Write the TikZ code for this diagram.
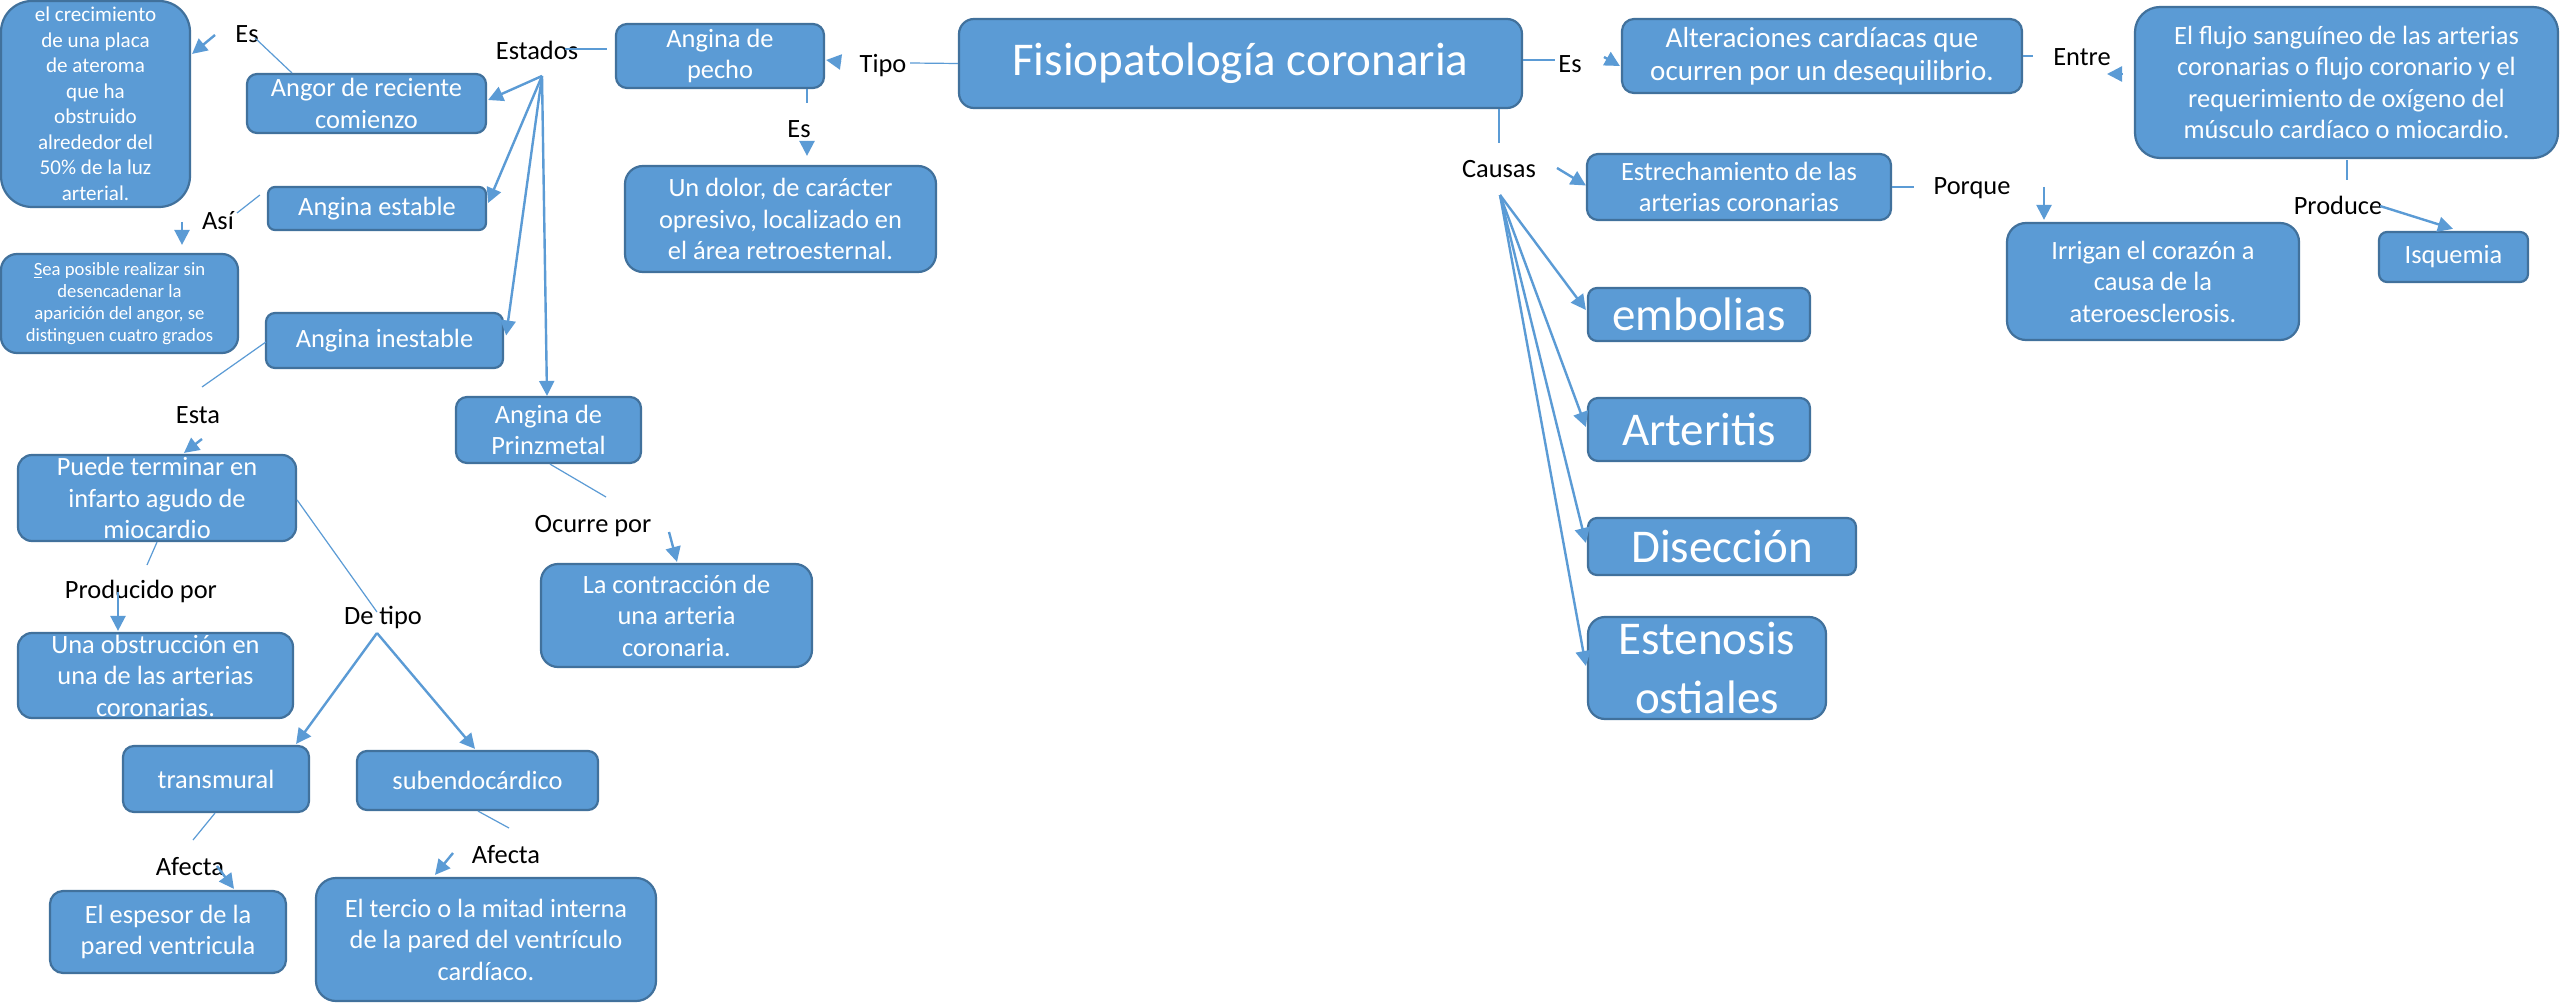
\documentclass[tikz,border=0pt]{standalone}
\usepackage{fontspec}
\setmainfont{Carlito}
\usetikzlibrary{arrows.meta,calc}
\definecolor{boxc}{HTML}{5B9BD5}
\definecolor{bordc}{HTML}{41719C}
\definecolor{linec}{HTML}{5B9BD5}
\newcommand\fsz[2]{\fontsize{#1pt}{#2pt}\selectfont}
\tikzset{
  box/.style={draw=bordc, fill=boxc, line width=2.2pt, text=white, align=center, inner sep=0pt, rounded corners=#1},
  box/.default=10pt,
  lbl/.style={font=\fsz{26.4}{31}, text=black, inner sep=0pt, anchor=base},
  arr/.style={draw=linec, line width=2.4pt, -{Triangle[length=15pt,width=15pt]}},
  thinl/.style={draw=linec, line width=1.2pt},
  bt/.style={font=\fsz{26.4}{31.5}},
  big/.style={font=\fsz{47}{57}},
}
\begin{document}
\begin{tikzpicture}[x=1pt,y=-1pt]
\useasboundingbox (0,0) rectangle (2560,1008);
\fill[white] (0,0) rectangle (2560,1008);

% ---------- boxes ----------
\node[box=31pt, minimum width=189pt, minimum height=206pt, font=\fsz{21.1}{25.5}] (tl) at (95.5,104) {el crecimiento\\de una placa\\de ateroma\\que ha\\obstruido\\alrededor del\\50\% de la luz\\arterial.};
\node[box=10pt, minimum width=239pt, minimum height=59pt, bt] (angor) at (366.5,103.5) {Angor de reciente\\comienzo};
\node[box=7pt, minimum width=218pt, minimum height=43pt, bt] (estable) at (377,208.5) {Angina estable};
\node[box=16pt, minimum width=237pt, minimum height=99pt, font=\fsz{18.7}{22}] (sea) at (119.5,303.5) {\underline{S}ea posible realizar sin\\desencadenar la\\aparición del angor, se\\distinguen cuatro grados};
\node[box=9pt, minimum width=237pt, minimum height=55pt, bt] (inest) at (384.5,340.5) {Angina inestable};
\node[box=14pt, minimum width=278pt, minimum height=86pt, bt] (puede) at (157,498) {Puede terminar en\\infarto agudo de\\miocardio};
\node[box=14pt, minimum width=275pt, minimum height=85pt, bt] (obst) at (155.5,675.5) {Una obstrucción en\\una de las arterias\\coronarias.};
\node[box=11pt, minimum width=186pt, minimum height=66pt, bt] (trans) at (216,779) {transmural};
\node[box=13pt, minimum width=236pt, minimum height=82pt, bt] (esp) at (168,932) {El espesor de la\\pared ventricula};
\node[box=10pt, minimum width=241pt, minimum height=59pt, bt] (subendo) at (477.5,780.5) {subendocárdico};
\node[box=20pt, minimum width=340pt, minimum height=123pt, bt] (tercio) at (486,939.5) {El tercio o la mitad interna\\de la pared del ventrículo\\cardíaco.};
\node[box=11pt, minimum width=185pt, minimum height=66pt, bt] (prinz) at (548.5,430) {Angina de\\Prinzmetal};
\node[box=17pt, minimum width=271pt, minimum height=103pt, bt] (contr) at (676.5,615.5) {La contracción de\\una arteria\\coronaria.};
\node[box=11pt, minimum width=208pt, minimum height=64pt, bt] (pecho) at (720,56) {Angina de\\pecho};
\node[box=18pt, minimum width=311pt, minimum height=106pt, bt] (dolor) at (780.5,219) {Un dolor, de carácter\\opresivo, localizado en\\el área retroesternal.};
\node[box=15pt, minimum width=563pt, minimum height=89pt, big] (fisio) at (1240.5,63.5) {Fisiopatología coronaria};
\node[box=12pt, minimum width=400pt, minimum height=74pt, font=\fsz{29}{33}] (alter) at (1822,56) {Alteraciones cardíacas que\\ocurren por un desequilibrio.};
\node[box=25pt, minimum width=423pt, minimum height=151pt, bt] (flujo) at (2346.5,82.5) {El flujo sanguíneo de las arterias\\coronarias o flujo coronario y el\\requerimiento de oxígeno del\\músculo cardíaco o miocardio.};
\node[box=11pt, minimum width=304pt, minimum height=66pt, bt] (estre) at (1739,187) {Estrechamiento de las\\arterias coronarias};
\node[box=19pt, minimum width=292pt, minimum height=117pt, bt] (irrig) at (2153,281.5) {Irrigan el corazón a\\causa de la\\ateroesclerosis.};
\node[box=8pt, minimum width=149pt, minimum height=50pt, bt] (isq) at (2453.5,257) {Isquemia};
\node[box=9pt, minimum width=222pt, minimum height=53pt, big] (embol) at (1699,314.5) {embolias};
\node[box=10pt, minimum width=222pt, minimum height=63pt, big] (arter) at (1699,429.5) {Arteritis};
\node[box=9pt, minimum width=268pt, minimum height=57pt, big] (disec) at (1722,546.5) {Disección};
\node[box=17pt, minimum width=238pt, minimum height=102pt, font=\fsz{47}{59}] (esten) at (1707,668) {Estenosis\\ostiales};

% ---------- labels ----------
\node[lbl] (es1) at (247,43) {Es};
\node[lbl] (estados) at (537,60) {Estados};
\node[lbl] (tipo) at (883,72.5) {Tipo};
\node[lbl] (es2) at (799,138) {Es};
\node[lbl] (asi) at (218,230) {Así};
\node[lbl] (esta) at (198,423) {Esta};
\node[lbl] (prod) at (141,598) {Producido por};
\node[lbl] (detipo) at (383,624) {De tipo};
\node[lbl] (af1) at (190,875) {Afecta};
\node[lbl] (af2) at (506,863) {Afecta};
\node[lbl] (ocurre) at (593,532) {Ocurre por};
\node[lbl] (es3) at (1570,73) {Es};
\node[lbl] (causas) at (1499,178) {Causas};
\node[lbl] (entre) at (2082,66) {Entre};
\node[lbl] (porque) at (1972,195) {Porque};
\node[lbl] (produce) at (2338,215) {Produce};

% ---------- free ends ----------
\coordinate (es1a) at (255,38);
\coordinate (es1b) at (215,35);
\coordinate (estL) at (565,49);
\coordinate (estO) at (542,76);
\coordinate (tipoR) at (910,63);
\coordinate (tipoL) at (841,62);
\coordinate (es2t) at (807,103);
\coordinate (es2b) at (807,141);
\coordinate (asiR) at (237,213);
\coordinate (asiL) at (182,222);
\coordinate (estaT) at (202,387);
\coordinate (estaB) at (202,439);
\coordinate (prodT) at (147,565);
\coordinate (prodB) at (118,592);
\coordinate (detT) at (377,612);
\coordinate (detB) at (377,633);
\coordinate (af1T) at (193,840);
\coordinate (af1B) at (217,866);
\coordinate (af2T) at (509,828);
\coordinate (af2B) at (453,853);
\coordinate (ocT) at (606,497);
\coordinate (ocB) at (669,532);
\coordinate (es3L) at (1555,60);
\coordinate (es3R) at (1604,57);
\coordinate (entreL) at (2033,56);
\coordinate (entreR) at (2107,74);
\coordinate (causT) at (1499,143);
\coordinate (causR) at (1557,168);
\coordinate (causO) at (1500,195);
\coordinate (porL) at (1914,187);
\coordinate (porR) at (2044,187);
\coordinate (prodcT) at (2347,180);
\coordinate (prodcR) at (2380,206);

% ---------- connectors ----------
\draw[thinl] (es1a) -- ($(angor.north west)+(46,0)$);
\draw[arr] (es1b) -- ($(tl.north east)+(1,54)$);
\draw[thinl] (estL) -- ($(pecho.west)+(-8,-7)$);
\draw[arr] (estO) -- ($(angor.east)+(1,-3.5)$);
\draw[arr] (estO) -- ($(estable.east)+(1,-5.5)$);
\draw[arr] (estO) -- ($(inest.east)+(2,-5)$);
\draw[arr] (estO) -- ($(prinz.north)+(-1.5,0)$);
\draw[thinl] (tipoR) -- (fisio.west);
\draw[arr] (tipoL) -- ($(pecho.east)+(1,4)$);
\draw[thinl] ($(pecho.south)+(87,0)$) -- (es2t);
\draw[arr] (es2b) -- ($(dolor.north)+(26.5,-9)$);
\draw[thinl] (asiR) -- ($(estable.west)+(-7,-13.5)$);
\draw[arr] (asiL) -- ($(sea.north)+(62.5,-8)$);
\draw[thinl] ($(inest.west)+(1,1.5)$) -- (estaT);
\draw[arr] (estaB) -- ($(puede.north)+(27,-1)$);
\draw[thinl] (puede.south) -- (prodT);
\draw[arr] (prodB) -- ($(obst.north)+(-37.5,-1)$);
\draw[thinl] ($(puede.east)+(0,2)$) -- (detT);
\draw[arr] (detB) -- ($(trans.north east)+(-14,-1)$);
\draw[arr] (detB) -- ($(subendo.north)+(-2.5,-1)$);
\draw[thinl] ($(trans.south)+(-1,0)$) -- (af1T);
\draw[arr] (af1B) -- ($(esp.north)+(66,-1)$);
\draw[thinl] ($(subendo.south)+(0.5,0)$) -- (af2T);
\draw[arr] (af2B) -- ($(tercio.north)+(-51,-2)$);
\draw[thinl] ($(prinz.south)+(1.5,0)$) -- (ocT);
\draw[arr] (ocB) -- ($(contr.north)+(0.5,-1)$);
\draw[thinl] ($(fisio.east)+(0,-3.5)$) -- (es3L);
\draw[arr] (es3R) -- ($(alter.west)+(-1,10)$);
\draw[thinl] (alter.east) -- (entreL);
\draw[arr] ($(flujo.west)+(-11,-8.5)$) -- (entreR);
\draw[thinl] ($(fisio.south)+(258.5,0)$) -- (causT);
\draw[arr] (causR) -- ($(estre.west)+(0,-1.5)$);
\draw[arr] (causO) -- ($(embol.west)+(-1,-4.5)$);
\draw[arr] (causO) -- ($(arter.west)+(-1,-2.5)$);
\draw[arr] (causO) -- ($(disec.west)+(-1,-3.5)$);
\draw[arr] (causO) -- ($(esten.west)+(-1,-2)$);
\draw[thinl] (estre.east) -- (porL);
\draw[arr] (porR) -- ($(irrig.north)+(-109,-2)$);
\draw[thinl] ($(flujo.south)+(0.5,1)$) -- (prodcT);
\draw[arr] (prodcR) -- ($(isq.north)+(-0.5,-2)$);
\end{tikzpicture}
\end{document}
